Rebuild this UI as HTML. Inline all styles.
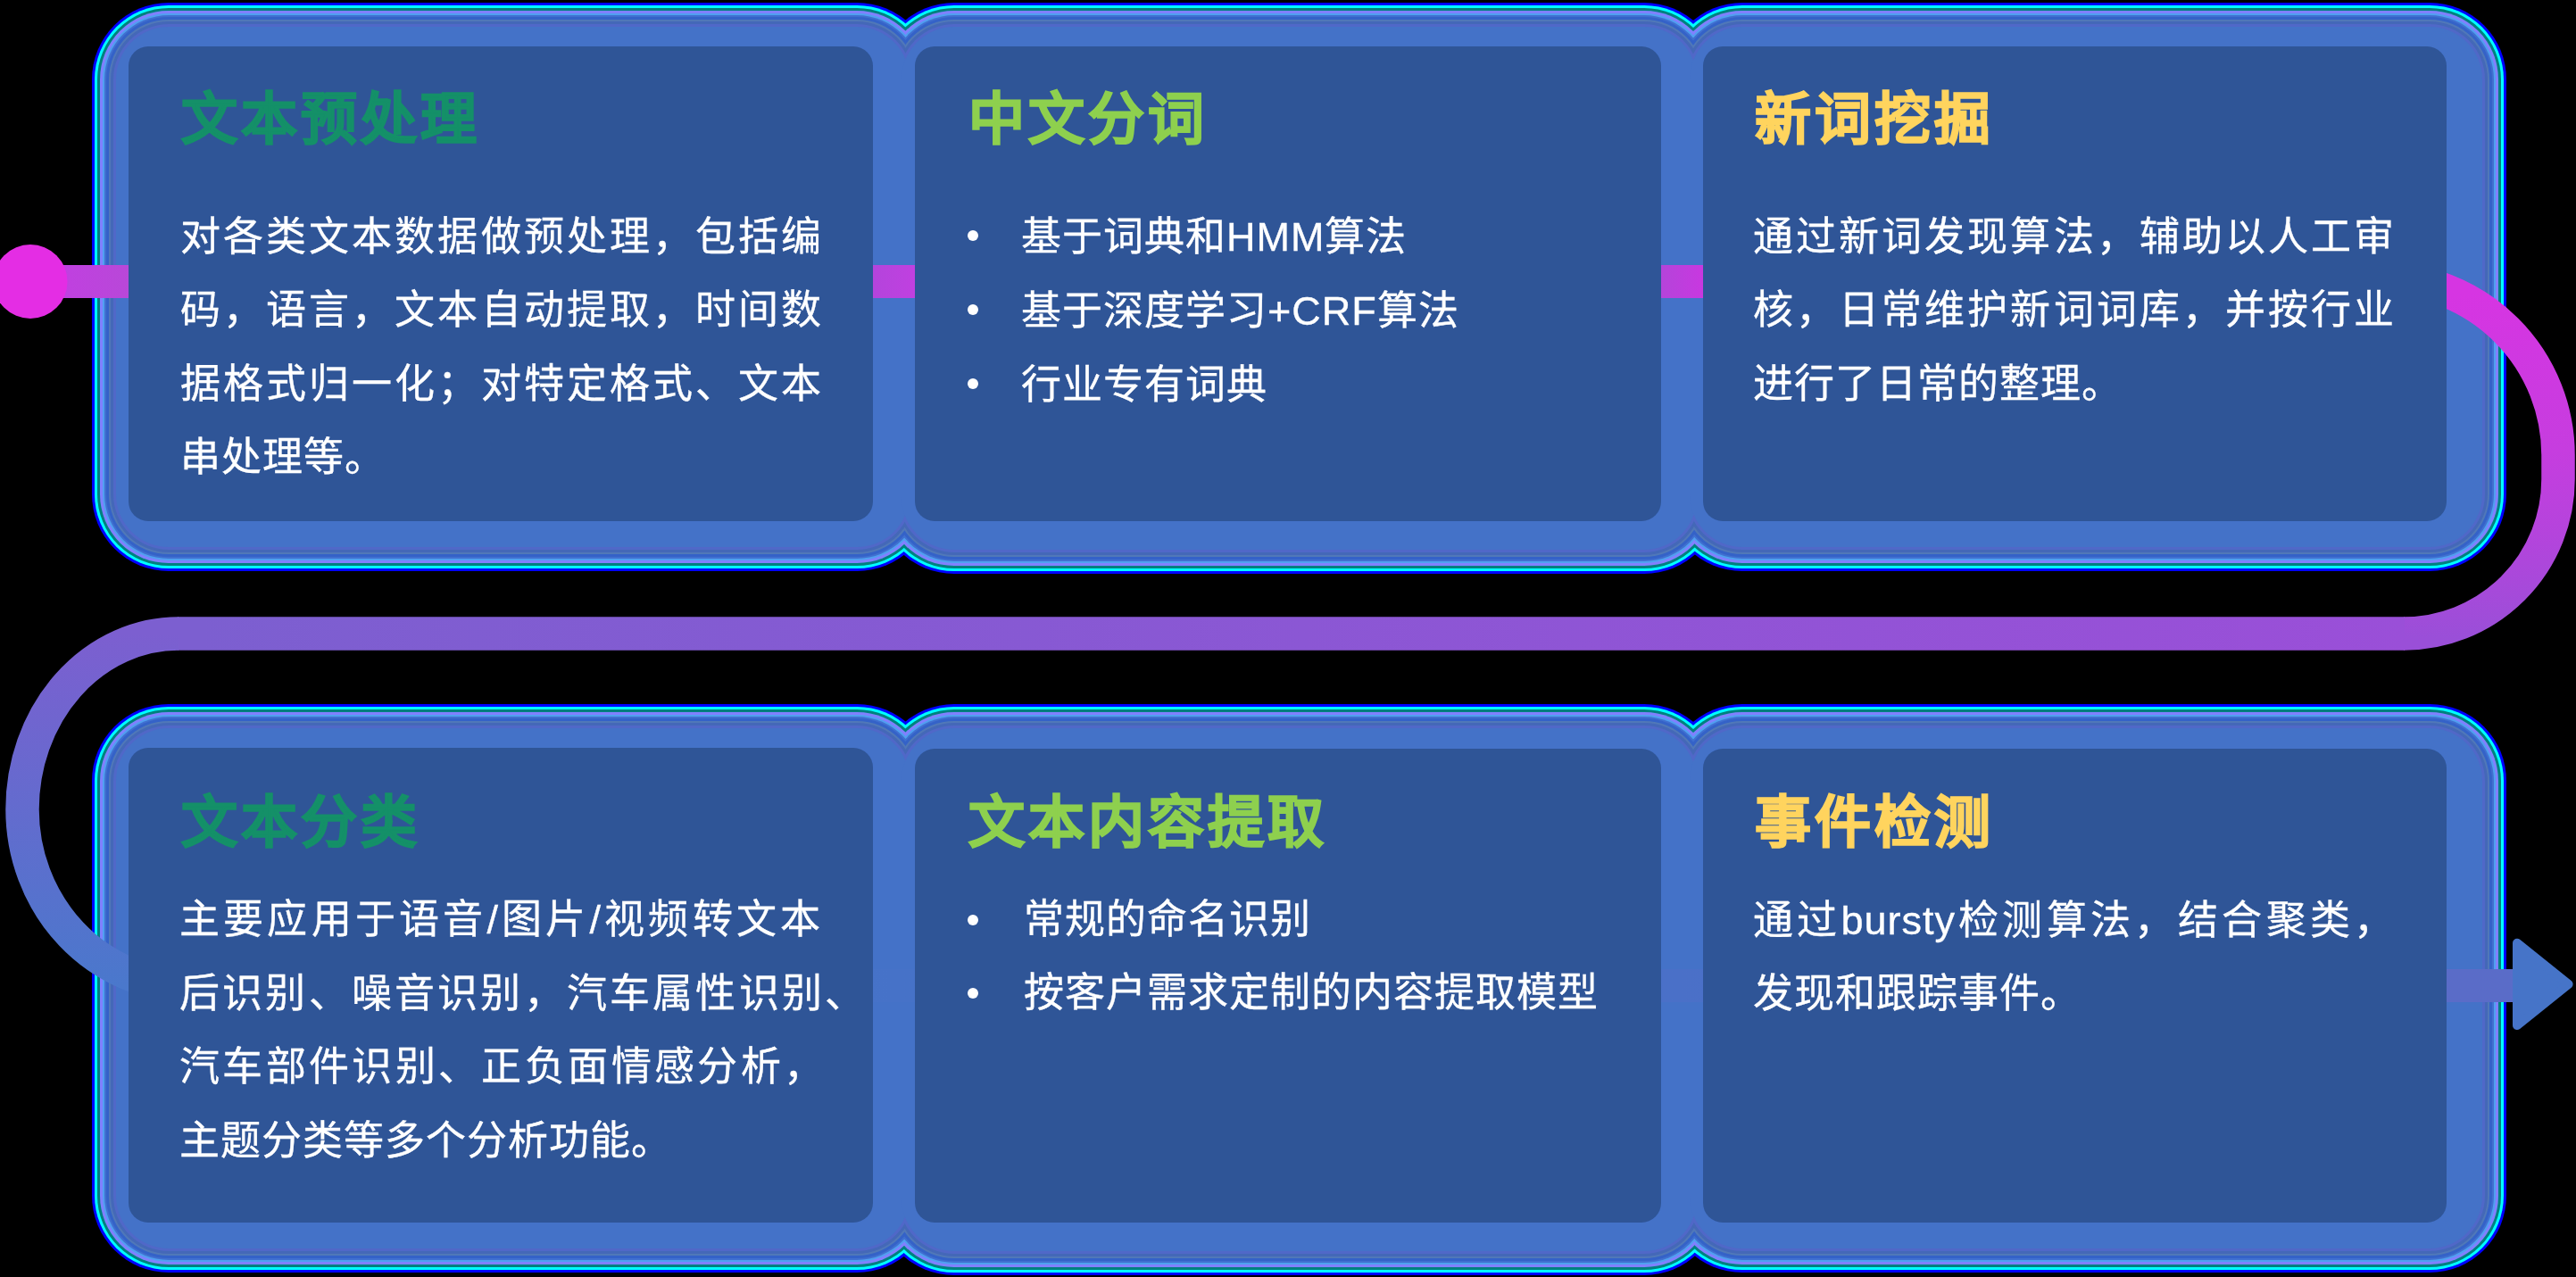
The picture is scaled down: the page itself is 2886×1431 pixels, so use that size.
<!DOCTYPE html>
<html lang="zh-CN"><head><meta charset="utf-8">
<style>
html,body{margin:0;padding:0;}
body{width:2886px;height:1431px;background:#000;position:relative;overflow:hidden;font-family:"Liberation Sans",sans-serif;}
.f{position:absolute;}
.c{position:absolute;background:#2f5597;border-radius:22px;}
svg{position:absolute;left:0;top:0;}
.t{position:absolute;font-size:63px;line-height:63px;font-weight:700;letter-spacing:4px;white-space:nowrap;-webkit-text-stroke:1.6px currentColor;will-change:transform;}
.b{position:absolute;font-size:45px;line-height:45px;color:#fff;letter-spacing:1px;-webkit-text-stroke:0.35px #fff;white-space:nowrap;will-change:transform;}
.j{text-align:justify;text-align-last:justify;}
.g1{color:#149068}.g2{color:#8ed04e}.g3{color:#ffd45e}
.dot{position:absolute;width:12px;height:12px;border-radius:50%;background:#fff;}
</style></head><body>
<div class="f" style="left:103.0px;top:3.0px;width:942.5px;height:637.0px;border-radius:86px;background:#0000ff"></div>
<div class="f" style="left:983.0px;top:3.0px;width:944.6px;height:640.0px;border-radius:86px;background:#0000ff"></div>
<div class="f" style="left:1865.5px;top:3.0px;width:942.5px;height:637.0px;border-radius:86px;background:#0000ff"></div>
<div class="f" style="left:103.0px;top:789.0px;width:942.5px;height:637.0px;border-radius:86px;background:#0000ff"></div>
<div class="f" style="left:983.0px;top:789.0px;width:944.6px;height:640.0px;border-radius:86px;background:#0000ff"></div>
<div class="f" style="left:1865.5px;top:789.0px;width:942.5px;height:637.0px;border-radius:86px;background:#0000ff"></div>
<div class="f" style="left:106.0px;top:6.0px;width:936.5px;height:631.0px;border-radius:83px;background:#00ffff"></div>
<div class="f" style="left:986.0px;top:6.0px;width:938.6px;height:634.0px;border-radius:83px;background:#00ffff"></div>
<div class="f" style="left:1868.5px;top:6.0px;width:936.5px;height:631.0px;border-radius:83px;background:#00ffff"></div>
<div class="f" style="left:106.0px;top:792.0px;width:936.5px;height:631.0px;border-radius:83px;background:#00ffff"></div>
<div class="f" style="left:986.0px;top:792.0px;width:938.6px;height:634.0px;border-radius:83px;background:#00ffff"></div>
<div class="f" style="left:1868.5px;top:792.0px;width:936.5px;height:631.0px;border-radius:83px;background:#00ffff"></div>
<div class="f" style="left:109.0px;top:9.0px;width:930.5px;height:625.0px;border-radius:80px;background:#008080"></div>
<div class="f" style="left:989.0px;top:9.0px;width:932.6px;height:628.0px;border-radius:80px;background:#008080"></div>
<div class="f" style="left:1871.5px;top:9.0px;width:930.5px;height:625.0px;border-radius:80px;background:#008080"></div>
<div class="f" style="left:109.0px;top:795.0px;width:930.5px;height:625.0px;border-radius:80px;background:#008080"></div>
<div class="f" style="left:989.0px;top:795.0px;width:932.6px;height:628.0px;border-radius:80px;background:#008080"></div>
<div class="f" style="left:1871.5px;top:795.0px;width:930.5px;height:625.0px;border-radius:80px;background:#008080"></div>
<div class="f" style="left:112.0px;top:12.0px;width:924.5px;height:619.0px;border-radius:77px;background:#8080ff"></div>
<div class="f" style="left:992.0px;top:12.0px;width:926.6px;height:622.0px;border-radius:77px;background:#8080ff"></div>
<div class="f" style="left:1874.5px;top:12.0px;width:924.5px;height:619.0px;border-radius:77px;background:#8080ff"></div>
<div class="f" style="left:112.0px;top:798.0px;width:924.5px;height:619.0px;border-radius:77px;background:#8080ff"></div>
<div class="f" style="left:992.0px;top:798.0px;width:926.6px;height:622.0px;border-radius:77px;background:#8080ff"></div>
<div class="f" style="left:1874.5px;top:798.0px;width:924.5px;height:619.0px;border-radius:77px;background:#8080ff"></div>
<div class="f" style="left:115.0px;top:15.0px;width:918.5px;height:613.0px;border-radius:74px;background:#50a0f0"></div>
<div class="f" style="left:995.0px;top:15.0px;width:920.6px;height:616.0px;border-radius:74px;background:#50a0f0"></div>
<div class="f" style="left:1877.5px;top:15.0px;width:918.5px;height:613.0px;border-radius:74px;background:#50a0f0"></div>
<div class="f" style="left:115.0px;top:801.0px;width:918.5px;height:613.0px;border-radius:74px;background:#50a0f0"></div>
<div class="f" style="left:995.0px;top:801.0px;width:920.6px;height:616.0px;border-radius:74px;background:#50a0f0"></div>
<div class="f" style="left:1877.5px;top:801.0px;width:918.5px;height:613.0px;border-radius:74px;background:#50a0f0"></div>
<div class="f" style="left:117.0px;top:17.0px;width:914.5px;height:609.0px;border-radius:72px;background:#4070d0"></div>
<div class="f" style="left:997.0px;top:17.0px;width:916.6px;height:612.0px;border-radius:72px;background:#4070d0"></div>
<div class="f" style="left:1879.5px;top:17.0px;width:914.5px;height:609.0px;border-radius:72px;background:#4070d0"></div>
<div class="f" style="left:117.0px;top:803.0px;width:914.5px;height:609.0px;border-radius:72px;background:#4070d0"></div>
<div class="f" style="left:997.0px;top:803.0px;width:916.6px;height:612.0px;border-radius:72px;background:#4070d0"></div>
<div class="f" style="left:1879.5px;top:803.0px;width:914.5px;height:609.0px;border-radius:72px;background:#4070d0"></div>
<div class="f" style="left:119.0px;top:19.0px;width:910.5px;height:605.0px;border-radius:70px;background:#3462c8"></div>
<div class="f" style="left:999.0px;top:19.0px;width:912.6px;height:608.0px;border-radius:70px;background:#3462c8"></div>
<div class="f" style="left:1881.5px;top:19.0px;width:910.5px;height:605.0px;border-radius:70px;background:#3462c8"></div>
<div class="f" style="left:119.0px;top:805.0px;width:910.5px;height:605.0px;border-radius:70px;background:#3462c8"></div>
<div class="f" style="left:999.0px;top:805.0px;width:912.6px;height:608.0px;border-radius:70px;background:#3462c8"></div>
<div class="f" style="left:1881.5px;top:805.0px;width:910.5px;height:605.0px;border-radius:70px;background:#3462c8"></div>
<div class="f" style="left:122.0px;top:22.0px;width:904.5px;height:599.0px;border-radius:67px;background:#5078b8"></div>
<div class="f" style="left:1002.0px;top:22.0px;width:906.6px;height:602.0px;border-radius:67px;background:#5078b8"></div>
<div class="f" style="left:1884.5px;top:22.0px;width:904.5px;height:599.0px;border-radius:67px;background:#5078b8"></div>
<div class="f" style="left:122.0px;top:808.0px;width:904.5px;height:599.0px;border-radius:67px;background:#5078b8"></div>
<div class="f" style="left:1002.0px;top:808.0px;width:906.6px;height:602.0px;border-radius:67px;background:#5078b8"></div>
<div class="f" style="left:1884.5px;top:808.0px;width:904.5px;height:599.0px;border-radius:67px;background:#5078b8"></div>
<div class="f" style="left:124.0px;top:24.0px;width:900.5px;height:595.0px;border-radius:65px;background:#4468b8"></div>
<div class="f" style="left:1004.0px;top:24.0px;width:902.6px;height:598.0px;border-radius:65px;background:#4468b8"></div>
<div class="f" style="left:1886.5px;top:24.0px;width:900.5px;height:595.0px;border-radius:65px;background:#4468b8"></div>
<div class="f" style="left:124.0px;top:810.0px;width:900.5px;height:595.0px;border-radius:65px;background:#4468b8"></div>
<div class="f" style="left:1004.0px;top:810.0px;width:902.6px;height:598.0px;border-radius:65px;background:#4468b8"></div>
<div class="f" style="left:1886.5px;top:810.0px;width:900.5px;height:595.0px;border-radius:65px;background:#4468b8"></div>
<div class="f" style="left:127.0px;top:27.0px;width:894.5px;height:589.0px;border-radius:62px;background:#5068c8"></div>
<div class="f" style="left:1007.0px;top:27.0px;width:896.6px;height:592.0px;border-radius:62px;background:#5068c8"></div>
<div class="f" style="left:1889.5px;top:27.0px;width:894.5px;height:589.0px;border-radius:62px;background:#5068c8"></div>
<div class="f" style="left:127.0px;top:813.0px;width:894.5px;height:589.0px;border-radius:62px;background:#5068c8"></div>
<div class="f" style="left:1007.0px;top:813.0px;width:896.6px;height:592.0px;border-radius:62px;background:#5068c8"></div>
<div class="f" style="left:1889.5px;top:813.0px;width:894.5px;height:589.0px;border-radius:62px;background:#5068c8"></div>
<div class="f" style="left:130.0px;top:30.0px;width:888.5px;height:583.0px;border-radius:59px;background:#4472c8"></div>
<div class="f" style="left:1010.0px;top:30.0px;width:890.6px;height:586.0px;border-radius:59px;background:#4472c8"></div>
<div class="f" style="left:1892.5px;top:30.0px;width:888.5px;height:583.0px;border-radius:59px;background:#4472c8"></div>
<div class="f" style="left:130.0px;top:816.0px;width:888.5px;height:583.0px;border-radius:59px;background:#4472c8"></div>
<div class="f" style="left:1010.0px;top:816.0px;width:890.6px;height:586.0px;border-radius:59px;background:#4472c8"></div>
<div class="f" style="left:1892.5px;top:816.0px;width:888.5px;height:583.0px;border-radius:59px;background:#4472c8"></div>
<svg width="2886" height="1431" viewBox="0 0 2886 1431">
<defs>
<linearGradient id="ga" gradientUnits="userSpaceOnUse" x1="0" y1="330" x2="0" y2="715"><stop offset="0" stop-color="#d635e2"/><stop offset="0.45" stop-color="#c63ddf"/><stop offset="0.7" stop-color="#b444dc"/><stop offset="1" stop-color="#9a4fd8"/></linearGradient>
<linearGradient id="gl" gradientUnits="userSpaceOnUse" x1="2694" y1="0" x2="224" y2="0"><stop offset="0" stop-color="#9a4fd8"/><stop offset="1" stop-color="#7c5fd0"/></linearGradient>
<linearGradient id="gb" gradientUnits="userSpaceOnUse" x1="0" y1="710" x2="0" y2="1105"><stop offset="0" stop-color="#7c5fd0"/><stop offset="1" stop-color="#4a78cc"/></linearGradient>
<linearGradient id="gr" gradientUnits="userSpaceOnUse" x1="224" y1="0" x2="2815" y2="0"><stop offset="0" stop-color="#4a78cc"/><stop offset="0.3" stop-color="#4672c8"/><stop offset="0.64" stop-color="#4a70c8"/><stop offset="0.97" stop-color="#5a6cc8"/><stop offset="1" stop-color="#5a6cc8"/></linearGradient>
</defs>
<linearGradient id="b1" gradientUnits="userSpaceOnUse" x1="70" y1="0" x2="146" y2="0"><stop offset="0" stop-color="#c040e0"/><stop offset="1" stop-color="#b848d8"/></linearGradient>
<linearGradient id="b2" gradientUnits="userSpaceOnUse" x1="978" y1="0" x2="1026" y2="0"><stop offset="0" stop-color="#b444dc"/><stop offset="1" stop-color="#c040e0"/></linearGradient>
<linearGradient id="b3" gradientUnits="userSpaceOnUse" x1="1860" y1="0" x2="1908" y2="0"><stop offset="0" stop-color="#b444da"/><stop offset="1" stop-color="#c838e0"/></linearGradient>
<rect x="34" y="297" width="2636" height="37" fill="#bf41df"/>
<rect x="34" y="297" width="112" height="37" fill="url(#b1)"/>
<rect x="977" y="297" width="49" height="37" fill="url(#b2)"/>
<rect x="1859" y="297" width="49" height="37" fill="url(#b3)"/>
<circle cx="34" cy="315.5" r="41.5" fill="#e42de4"/>
<path d="M2668,312 A198,198 0 0 1 2866,510 V537 A173,173 0 0 1 2693,710" fill="none" stroke="url(#ga)" stroke-width="37.5"/>
<path d="M2694,710 H199" fill="none" stroke="url(#gl)" stroke-width="37.5"/>
<path d="M200,710 A175,197 0 0 0 25,907 A187,197.5 0 0 0 212,1104.5" fill="none" stroke="url(#gb)" stroke-width="37.5"/>
<rect x="223" y="1086" width="2594" height="37" fill="url(#gr)"/>
<path d="M2820,1056.7 L2877.6,1102.8 L2820,1149 Z" fill="#4674c8" stroke="#4674c8" stroke-width="10" stroke-linejoin="round"/>
</svg>
<div class="c" style="left:144.2px;top:52px;width:834.3px;height:531.8px"></div>
<div class="c" style="left:1025px;top:52px;width:835.6px;height:531.8px"></div>
<div class="c" style="left:1907.5px;top:52px;width:833.5px;height:531.8px"></div>
<div class="c" style="left:144.2px;top:838px;width:834.3px;height:531.5px"></div>
<div class="c" style="left:1025px;top:838.5px;width:835.6px;height:531px"></div>
<div class="c" style="left:1907.5px;top:838.5px;width:833.5px;height:531px"></div>
<div class="t g1" style="left:203px;top:102px">文本预处理</div>
<div class="b j" style="left:201.5px;top:243.0px;width:719px">对各类文本数据做预处理，包括编</div>
<div class="b j" style="left:201.5px;top:325.4px;width:719px">码，语言，文本自动提取，时间数</div>
<div class="b j" style="left:201.5px;top:407.8px;width:719px">据格式归一化；对特定格式、文本</div>
<div class="b" style="left:201.5px;top:490.2px">串处理等。</div>
<div class="t g2" style="left:1085px;top:102px">中文分词</div>
<div class="dot" style="left:1084.4px;top:258.3px"></div>
<div class="dot" style="left:1084.4px;top:341.3px"></div>
<div class="dot" style="left:1084.4px;top:424.3px"></div>
<div class="b" style="left:1144px;top:243.0px">基于词典和HMM算法</div>
<div class="b" style="left:1144px;top:326.0px">基于深度学习+CRF算法</div>
<div class="b" style="left:1144px;top:409.0px">行业专有词典</div>
<div class="t g3" style="left:1966px;top:102px">新词挖掘</div>
<div class="b j" style="left:1964px;top:243.0px;width:719px">通过新词发现算法，辅助以人工审</div>
<div class="b j" style="left:1964px;top:325.4px;width:719px">核，日常维护新词词库，并按行业</div>
<div class="b" style="left:1964px;top:407.8px">进行了日常的整理。</div>
<div class="t g1" style="left:203px;top:890px">文本分类</div>
<div class="b j" style="left:200.5px;top:1007.7px;width:719px">主要应用于语音/图片/视频转文本</div>
<div class="b" style="left:200.5px;top:1090.5px"><span style="letter-spacing:3.2px">后识别、噪音识别，汽车属性识别、</span></div>
<div class="b j" style="left:200.5px;top:1173.3px;width:723px">汽车部件识别、正负面情感分析，</div>
<div class="b" style="left:200.5px;top:1256.1px">主题分类等多个分析功能。</div>
<div class="t g2" style="left:1085px;top:890px">文本内容提取</div>
<div class="dot" style="left:1084px;top:1025.4px"></div>
<div class="dot" style="left:1084px;top:1107.0px"></div>
<div class="b" style="left:1146.5px;top:1008.4px">常规的命名识别</div>
<div class="b" style="left:1146.5px;top:1090.0px">按客户需求定制的内容提取模型</div>
<div class="t g3" style="left:1966px;top:890px">事件检测</div>
<div class="b j" style="left:1964px;top:1009.0px;width:719px">通过bursty检测算法，结合聚类，</div>
<div class="b" style="left:1964px;top:1091.4px">发现和跟踪事件。</div>
</body></html>
